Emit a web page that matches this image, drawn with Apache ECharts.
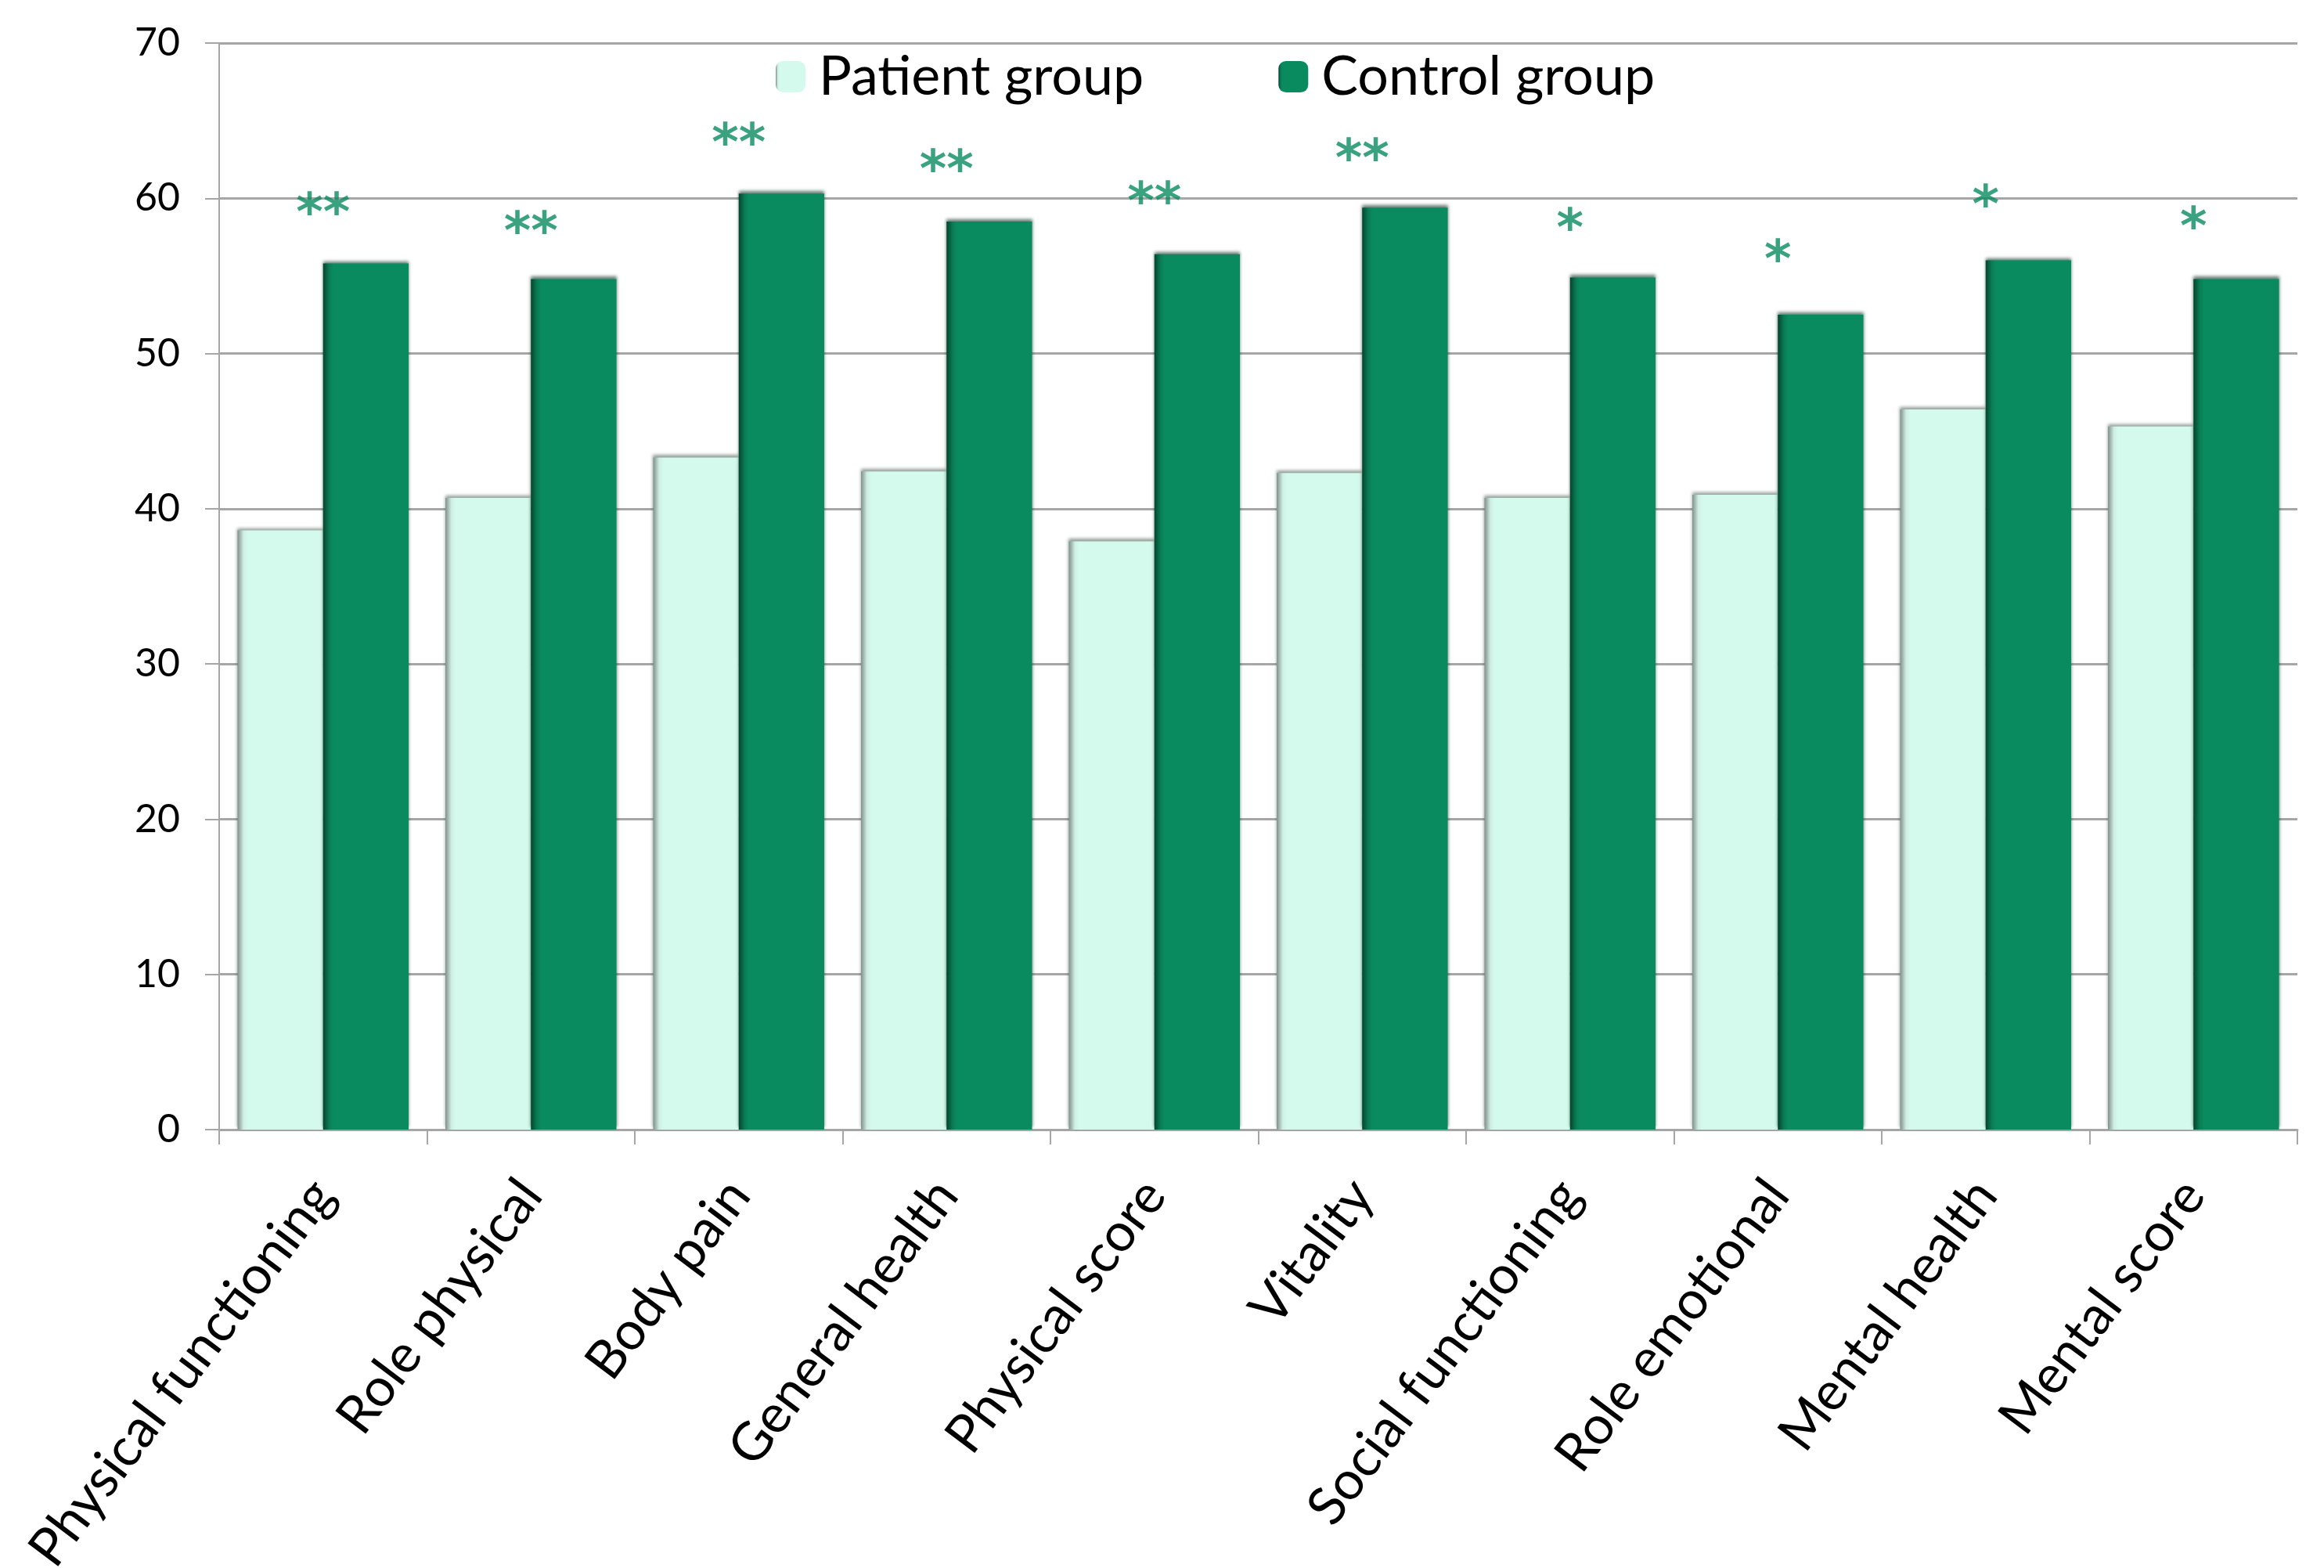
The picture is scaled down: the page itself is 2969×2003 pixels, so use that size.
<!DOCTYPE html>
<html>
<head>
	<meta charset="utf-8">
	<title>SF-36 scores</title>
	<style>
		html, body { margin: 0; padding: 0; background: #fff; }
		#main { width: 2969px; height: 2003px; }
	</style>
</head>
<body>
	<div id="main"></div>
<script type="text/javascript" src="https://cdn.jsdelivr.net/npm/echarts@6/dist/echarts.min.js"></script>
<script type="text/javascript">
	var categories = ['Physical functioning', 'Role physical', 'Body pain', 'General health', 'Physical score',
		'Vitality', 'Social functioning', 'Role emotional', 'Mental health', 'Mental score'];
	var patientGroup = [38.6, 40.7, 43.3, 42.4, 37.9, 42.3, 40.7, 40.9, 46.4, 45.3];
	var controlGroup = [55.8, 54.8, 60.3, 58.5, 56.4, 59.4, 54.9, 52.5, 56.0, 54.8];
	// significance marks and the height they sit at
	var sigMarks = ['**', '**', '**', '**', '**', '**', '*', '*', '*', '*'];
	var sigHeight = [59.7, 58.5, 64.2, 62.5, 60.4, 63.2, 58.7, 56.7, 60.2, 58.8];
	var yTicks = [0, 70, 10];

	var fontName = 'Lato';
	var gridColor = '#a6a6a6';

	var patientColor = {
		type: 'linear', x: 0, y: 0, x2: 1, y2: 0,
		colorStops: [
			{ offset: 0, color: '#7f918a' },
			{ offset: 0.07, color: '#cfeee4' },
			{ offset: 0.12, color: '#d3faed' },
			{ offset: 1, color: '#d3faed' }
		]
	};
	var controlColor = {
		type: 'linear', x: 0, y: 0, x2: 1, y2: 0,
		colorStops: [
			{ offset: 0, color: '#03452d' },
			{ offset: 0.07, color: '#0a7b54' },
			{ offset: 0.12, color: '#0a8b5f' },
			{ offset: 1, color: '#0a8b5f' }
		]
	};

	var sigData = [];
	for (var i = 0; i < sigHeight.length; i++) {
		sigData.push({ value: sigHeight[i], mark: sigMarks[i] });
	}

	var option = {
		backgroundColor: '#ffffff',
		animation: false,
		grid: {
			left: 280,
			right: 34,
			top: 55,
			bottom: 560,
			containLabel: false,
			outerBoundsMode: 'none'
		},
		legend: {
			data: ['Patient group', 'Control group'],
			left: 986,
			top: 58,
			itemWidth: 38,
			itemHeight: 40,
			itemGap: 172,
			textStyle: {
				fontFamily: fontName,
				fontSize: 70,
				color: '#000',
				padding: [0, 0, 0, 12]
			}
		},
		xAxis: [{
			type: 'category',
			data: categories,
			boundaryGap: true,
			axisLine: {
				lineStyle: { color: gridColor, width: 3 }
			},
			axisTick: {
				show: true,
				length: 19,
				lineStyle: { color: gridColor, width: 2 }
			},
			axisLabel: {
				interval: 0,
				rotate: 53,
				margin: 72,
				fontFamily: fontName,
				fontSize: 68,
				color: '#000'
			},
			splitLine: { show: false }
		}],
		yAxis: [{
			type: 'value',
			min: yTicks[0],
			max: yTicks[1],
			interval: yTicks[2],
			axisLine: {
				show: true,
				lineStyle: { color: gridColor, width: 2 }
			},
			axisTick: {
				show: true,
				length: 18,
				lineStyle: { color: gridColor, width: 2 }
			},
			axisLabel: {
				margin: 50,
				fontFamily: fontName,
				fontSize: 50,
				color: '#000'
			},
			splitLine: {
				lineStyle: { color: gridColor, width: 3 }
			}
		}],
		series: [{
			name: 'Patient group',
			type: 'bar',
			barGap: '0%',
			barCategoryGap: '17.7%',
			itemStyle: {
				color: patientColor,
				shadowColor: 'rgba(60,80,70,0.55)',
				shadowBlur: 4,
				shadowOffsetY: -3
			},
			data: patientGroup
		}, {
			name: 'Control group',
			type: 'bar',
			itemStyle: {
				color: controlColor,
				shadowColor: 'rgba(0,40,25,0.6)',
				shadowBlur: 4,
				shadowOffsetY: -3
			},
			data: controlGroup
		}, {
			name: 'significance',
			type: 'scatter',
			symbolSize: 1,
			itemStyle: { color: 'rgba(0,0,0,0)' },
			label: {
				show: true,
				position: 'inside',
				offset: [0, 17],
				formatter: function (p) { return p.data.mark; },
				fontFamily: 'DejaVu Sans',
				fontWeight: 'bold',
				fontSize: 66,
				color: '#0a8b5f'
			},
			data: sigData
		}]
	};

	var myChart = echarts.init(document.getElementById('main'));
	myChart.setOption(option);
</script>
</body>
</html>
